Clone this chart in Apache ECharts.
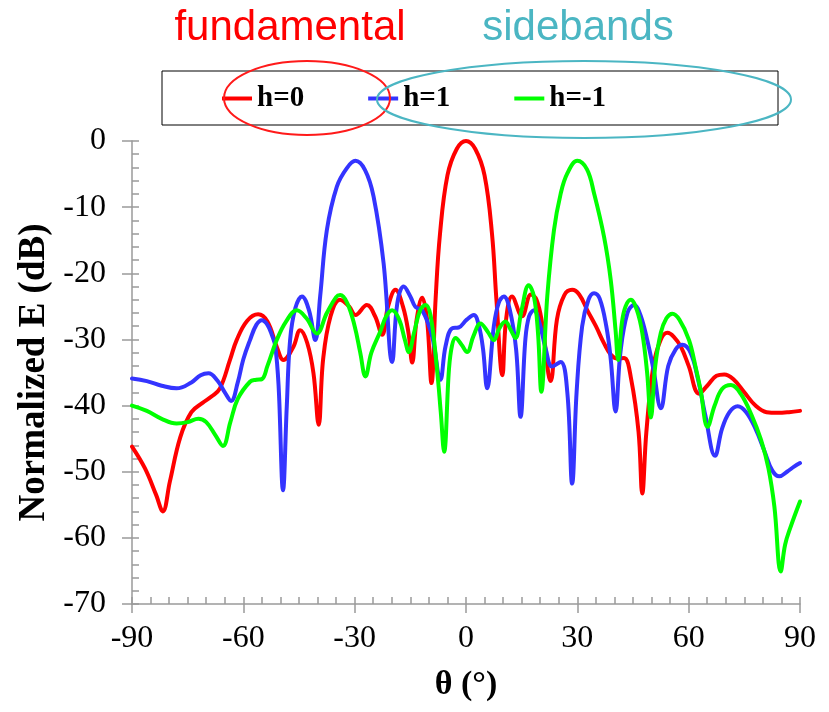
<!DOCTYPE html>
<html><head><meta charset="utf-8">
<script src="https://cdn.jsdelivr.net/npm/echarts@6/dist/echarts.min.js"></script>
<style>html,body{margin:0;padding:0;background:#fff}#c{width:829px;height:712px}</style>
</head><body><div id="c"></div>
<script>
const seriesNames = ['h=0', 'h=1', 'h=-1'];
const xTicks = { min: -90, max: 90, interval: 30 };
const yTicks = { min: -70, max: 0, interval: 10 };

// h=0 (fundamental): [theta (deg), normalized E (dB)]
const h0 = [[-90,-46.2],[-86.5,-49.5],[-83.5,-53.5],[-81.7,-56],[-79.8,-51.5],[-77,-44.8],[-74,-41],[-71,-39.6],[-68.5,-38.6],[-66.3,-37.4],[-63.6,-33.1],[-61.8,-30.1],[-59,-27.2],[-56,-26.2],[-53.5,-27.3],[-51,-31.1],[-49.2,-33.1],[-46.5,-31.1],[-44.7,-28.6],[-42.8,-30.5],[-41.1,-35.1],[-39.7,-42.9],[-38.5,-33],[-36.5,-26.5],[-34,-24],[-31.5,-25],[-29.8,-26.3],[-26.7,-24.8],[-24.5,-26.5],[-22.6,-29.3],[-21,-25],[-19,-22.5],[-17,-25],[-15.5,-29],[-14.5,-33.5],[-13.3,-27],[-11.8,-23.7],[-10.5,-27],[-9.3,-36.6],[-8.2,-24],[-7,-14],[-5,-5.2],[-2.5,-1.2],[0,0],[2.5,-1.2],[5,-5.2],[7,-14],[8.2,-24],[9.8,-35.4],[10.8,-27],[12.4,-23.5],[15.1,-26.5],[17.5,-23.2],[19,-24],[20.5,-27.5],[22.8,-36.3],[24.5,-27],[26.5,-23.3],[28.6,-22.5],[30.5,-23.2],[32.7,-25.6],[35,-28],[37.2,-30.6],[39,-32.3],[40.8,-32.9],[42.6,-32.8],[44.5,-36],[46.5,-44],[47.5,-53.3],[48.6,-44],[50.5,-34],[52.5,-30],[54.3,-29],[56,-29.6],[57.9,-31.1],[60,-34],[62.8,-38.2],[65,-37],[67.5,-35.5],[69.6,-35.3],[72,-36],[75,-38],[78,-40],[81,-41],[84,-41.1],[87,-41],[90,-40.8]];

// h=1 (sideband)
const h1 = [[-90,-35.9],[-86,-36.3],[-82,-37],[-78,-37.4],[-74,-36.5],[-71.5,-35.4],[-69.4,-35.1],[-67,-36.2],[-65,-38],[-63.3,-39.3],[-61.5,-36.5],[-60,-33],[-58.2,-30.1],[-56.5,-27.8],[-55,-27.1],[-53.5,-27.8],[-52.2,-29.5],[-51.4,-31],[-50.5,-37],[-49.3,-52.8],[-48.3,-40.2],[-47.4,-30.1],[-46,-25.3],[-44.2,-23.5],[-42.3,-25.6],[-40.6,-30.1],[-39.3,-23.5],[-37.5,-13.5],[-34.8,-6.9],[-32.1,-4.1],[-29.8,-3.0],[-27.2,-4.4],[-24.9,-8.4],[-22.2,-18.5],[-19.9,-33.4],[-18.5,-24.5],[-16.8,-22],[-15,-23.5],[-13.6,-25.1],[-11.8,-25.6],[-9.1,-29.6],[-6.9,-36.1],[-5.5,-31],[-3.7,-28.3],[-2,-28.2],[0.2,-27],[2.1,-26.3],[3.5,-28],[4.6,-31.5],[5.7,-37.4],[7.5,-28],[8.8,-24.5],[10.2,-23.5],[11.8,-25.5],[13.5,-31.5],[14.7,-41.7],[16,-30],[17,-26.5],[18.3,-25.6],[19.8,-27.5],[21.5,-31.5],[23.2,-34.1],[25.5,-33.4],[27.3,-38],[28.6,-51.8],[29.8,-38],[31.3,-28],[33,-24],[34.5,-23],[36,-23.8],[37.8,-28],[39,-33],[40.3,-40.9],[41.6,-32],[43.5,-26],[45.3,-24.8],[47,-26.3],[49,-30.5],[50.5,-34.5],[52.5,-40.4],[54.5,-34],[56.5,-31.5],[58.3,-30.8],[60.5,-32],[62.5,-36],[64.5,-41.5],[67.1,-47.6],[69,-43.5],[71,-41],[73.2,-40.1],[75.5,-41],[78,-43.5],[80.5,-47],[82.5,-49.8],[84.4,-50.7],[86.5,-50],[88.5,-49.2],[90,-48.7]];

// h=-1 (sideband)
const hm1 = [[-90,-40],[-86,-40.8],[-82,-42],[-78,-42.7],[-75,-42.5],[-72.1,-42],[-70,-42.5],[-67.5,-44.5],[-65.5,-46.1],[-63.5,-42.5],[-61.5,-39],[-58.2,-36.4],[-56.5,-36.1],[-55,-36],[-53.5,-34],[-51,-30.1],[-48.5,-27.3],[-45.6,-25.6],[-43,-26.8],[-40.2,-29.1],[-37.5,-26],[-35,-23.6],[-33.9,-23.3],[-32,-24.5],[-30,-28],[-28.5,-32],[-27.1,-35.6],[-25.5,-32],[-23.1,-28.8],[-21.5,-26.5],[-19.9,-25.6],[-18,-27],[-16.5,-30],[-15.4,-31.9],[-14,-29],[-12.3,-25.5],[-10.9,-24.8],[-9.5,-26.5],[-7.8,-34.6],[-6.8,-41],[-5.9,-47],[-4.6,-34.6],[-3.8,-31],[-2.8,-29.8],[-1.2,-30.8],[0.3,-31.9],[2,-29.5],[3.9,-27.6],[5.8,-28.8],[7.5,-30.1],[9,-28.3],[10.6,-27.3],[12,-28.5],[13.3,-29.8],[15,-25.5],[16.9,-21.8],[18.3,-23.5],[19.4,-29],[20.3,-37.9],[21.9,-23.5],[23.7,-13.5],[25.5,-8],[27.3,-4.9],[30,-3.0],[32.6,-4.3],[34.5,-7.9],[37.2,-14.5],[39,-21],[40.3,-28.6],[41,-33.1],[42,-27.5],[43,-25],[44.4,-24],[46,-25.5],[47.5,-29],[48.8,-35],[49.8,-41.8],[51,-34],[52.5,-29],[54,-26.8],[55.6,-26.1],[57.5,-27],[60.1,-30.1],[62,-34.5],[63.2,-37.6],[65.1,-43.2],[67,-40],[69,-37.5],[71.4,-36.9],[74,-38.2],[77,-41.5],[79.5,-45.2],[81.5,-49.5],[83.1,-55.3],[84.8,-65.1],[86,-61],[87.5,-58.3],[90,-54.5]];

const colors = ['#ff0000', '#3434ff', '#00ff00'];
const axisGray = '#9a9a9a';
const serif = '"Liberation Serif", "Times New Roman", serif';

const chart = echarts.init(document.getElementById('c'), null, { renderer: 'canvas' });

function mkSeries(name, data, color) {
  return {
    name, type: 'line', data, xAxisIndex: 0, yAxisIndex: 0,
    showSymbol: false, symbol: 'none', smooth: 0.4, smoothConstraint: false,
    lineStyle: { color, width: 4, join: 'round', cap: 'round' }, itemStyle: { color }
  };
}

chart.setOption({
  animation: false,
  backgroundColor: '#fff',
  grid: { left: 132, right: 29, top: 141, bottom: 108, containLabel: false },
  legend: {
    data: seriesNames, left: 222, top: 84, padding: 0,
    icon: 'rect', itemWidth: 30, itemHeight: 4, itemGap: 64,
    selectedMode: false,
    textStyle: { fontFamily: serif, fontWeight: 'bold', fontSize: 29, color: '#000', lineHeight: 29 }
  },
  xAxis: [{
    type: 'value', min: xTicks.min, max: xTicks.max, interval: xTicks.interval, position: 'bottom',
    name: 'θ (°)', nameLocation: 'middle', nameGap: 64,
    nameTextStyle: { fontFamily: serif, fontWeight: 'bold', fontSize: 34, color: '#000' },
    axisLine: { show: true, onZero: false, lineStyle: { color: axisGray, width: 1.5 } },
    axisTick: { show: true, inside: true, length: 7, lineStyle: { color: axisGray, width: 1.5 } },
    minorTick: { show: true, splitNumber: 6, length: 7, lineStyle: { color: axisGray, width: 1.5 } },
    axisLabel: { fontFamily: serif, fontSize: 32, color: '#000', margin: 19 },
    splitLine: { show: false }
  }, {
    type: 'value', min: xTicks.min, max: xTicks.max, interval: xTicks.interval, position: 'bottom',
    axisLine: { show: false, onZero: false },
    axisTick: { show: true, inside: false, length: 9, lineStyle: { color: axisGray, width: 1.5 } },
    axisLabel: { show: false }, splitLine: { show: false }
  }],
  yAxis: [{
    type: 'value', min: yTicks.min, max: yTicks.max, interval: yTicks.interval, position: 'left',
    name: 'Normalized E (dB)', nameLocation: 'middle', nameGap: 72,
    nameTextStyle: { fontFamily: serif, fontWeight: 'bold', fontSize: 37, color: '#000' },
    axisLine: { show: true, onZero: false, lineStyle: { color: axisGray, width: 1.5 } },
    axisTick: { show: true, inside: true, length: 7, lineStyle: { color: axisGray, width: 1.5 } },
    minorTick: { show: true, splitNumber: 5, length: 7, lineStyle: { color: axisGray, width: 1.5 } },
    axisLabel: { fontFamily: serif, fontSize: 32, color: '#000', margin: 26 },
    splitLine: { show: false }
  }, {
    type: 'value', min: yTicks.min, max: yTicks.max, interval: yTicks.interval, position: 'left',
    axisLine: { show: false, onZero: false },
    axisTick: { show: true, inside: false, length: 10, lineStyle: { color: axisGray, width: 1.5 } },
    axisLabel: { show: false }, splitLine: { show: false }
  }],
  graphic: [
    { type: 'rect', shape: { x: 162, y: 71, width: 616, height: 54 }, style: { fill: 'none', stroke: '#000', lineWidth: 1 }, z: 10 },
    { type: 'ellipse', shape: { cx: 307, cy: 98, rx: 83, ry: 37 }, style: { fill: 'none', stroke: '#ff1a1a', lineWidth: 2 }, z: 11 },
    { type: 'ellipse', shape: { cx: 584, cy: 99.5, rx: 207, ry: 38.5 }, style: { fill: 'none', stroke: '#4bb6c3', lineWidth: 2 }, z: 11 },
    { type: 'text', x: 290, y: 28, style: { text: 'fundamental', font: '42px "Liberation Sans", Arial, sans-serif', fill: '#ff0000', textAlign: 'center', textVerticalAlign: 'middle' }, z: 11 },
    { type: 'text', x: 578, y: 28, style: { text: 'sidebands', font: '42px "Liberation Sans", Arial, sans-serif', fill: '#4bb6c3', textAlign: 'center', textVerticalAlign: 'middle' }, z: 11 }
  ],
  series: [
    mkSeries(seriesNames[0], h0, colors[0]),
    mkSeries(seriesNames[1], h1, colors[1]),
    mkSeries(seriesNames[2], hm1, colors[2])
  ]
});
</script>
</body></html>
